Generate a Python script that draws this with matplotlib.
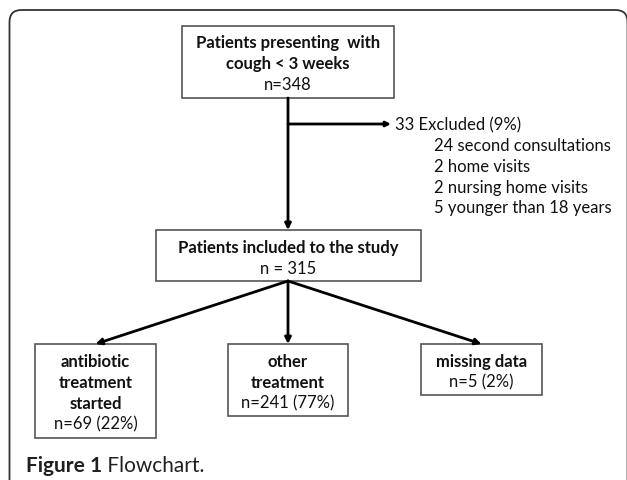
import matplotlib.pyplot as plt
from matplotlib.patches import Rectangle
from matplotlib.path import Path
from matplotlib.patches import PathPatch

plt.rcParams["font.family"] = ["Lato", "DejaVu Sans"]

# -- Flowchart content ---------------------------------------------------------
top_title = ["Patients presenting  with", "cough < 3 weeks"]
top_count = "n=348"
excluded_head = "33 Excluded (9%)"
excluded_items = ["24 second consultations", "2 home visits",
                  "2 nursing home visits", "5 younger than 18 years"]
mid_title = ["Patients included to the study"]
mid_count = "n = 315"
leaf_titles = [["antibiotic", "treatment", "started"],
               ["other", "treatment"],
               ["missing data"]]
leaf_counts = ["n=69 (22%)", "n=241 (77%)", "n=5 (2%)"]
caption_bold = "Figure 1"
caption_rest = " Flowchart."

# -- Layout (pixel coordinates, y down) ---------------------------------------
W, H = 627, 481
LINE = 20.8
FS = 12
BOX_EC = "#555555"
TXT = "#111111"

fig = plt.figure(figsize=(W / 100, H / 100), dpi=100)
ax = fig.add_axes([0, 0, 1, 1])
ax.set_xlim(0, W)
ax.set_ylim(H, 0)
ax.axis("off")

# outer frame, rounded top corners, open at the bottom
r = 12
left, top, right = 9.5, 11, 627.5
verts = [(left, H + 2), (left, top + r), (left, top), (left + r, top),
         (right - r, top), (right, top), (right, top + r), (right, H + 2)]
codes = [Path.MOVETO, Path.LINETO, Path.CURVE3, Path.CURVE3,
         Path.LINETO, Path.CURVE3, Path.CURVE3, Path.LINETO]
ax.add_patch(PathPatch(Path(verts, codes), fill=False, lw=1.3, ec="#333333"))


def box(x0, y0, x1, y1, bold_lines, normal_line, first_y):
    ax.add_patch(Rectangle((x0, y0), x1 - x0, y1 - y0, fill=False,
                           ec=BOX_EC, lw=1.2))
    cx = (x0 + x1) / 2
    y = first_y
    for ln in bold_lines:
        ax.text(cx, y, ln, ha="center", va="center", fontsize=FS,
                fontweight="bold", color=TXT)
        y += LINE
    ax.text(cx, y, normal_line, ha="center", va="center", fontsize=FS,
            color=TXT)


def arrow(x0, y0, x1, y1, ms=9):
    ax.annotate("", xy=(x1, y1), xytext=(x0, y0),
                arrowprops=dict(arrowstyle="-|>", lw=2, color="black",
                                mutation_scale=ms, shrinkA=0, shrinkB=0))


# top box
box(182, 27, 394, 99, top_title, top_count, 43)
# main vertical arrow and exclusion branch
arrow(288, 99, 288, 231)
arrow(288, 125, 391, 125, ms=7)
ax.text(395, 125, excluded_head, ha="left", va="center", fontsize=FS,
        color=TXT)
for i, item in enumerate(excluded_items):
    ax.text(434, 146 + i * LINE, item, ha="left", va="center", fontsize=FS,
            color=TXT)

# middle box
box(156, 231, 421, 282, mid_title, mid_count, 248)

# leaf boxes
leaf_x = [(35, 156), (228, 348), (421, 542)]
leaf_bottom = [439, 417, 396]
for (x0, x1), yb, titles, cnt in zip(leaf_x, leaf_bottom, leaf_titles, leaf_counts):
    box(x0, 345, x1, yb, titles, cnt, 362)
    arrow(288, 282, (x0 + x1) / 2, 345)

# caption
t = ax.text(26, 466, caption_bold, ha="left", va="center", fontsize=15,
            fontweight="bold", color="#231f20")
fig.canvas.draw()
bb = t.get_window_extent()
x_end = ax.transData.inverted().transform((bb.x1, bb.y0))[0]
ax.text(x_end, 466, caption_rest, ha="left", va="center", fontsize=15,
        color="#231f20")

fig.savefig("out.png", dpi=100)
